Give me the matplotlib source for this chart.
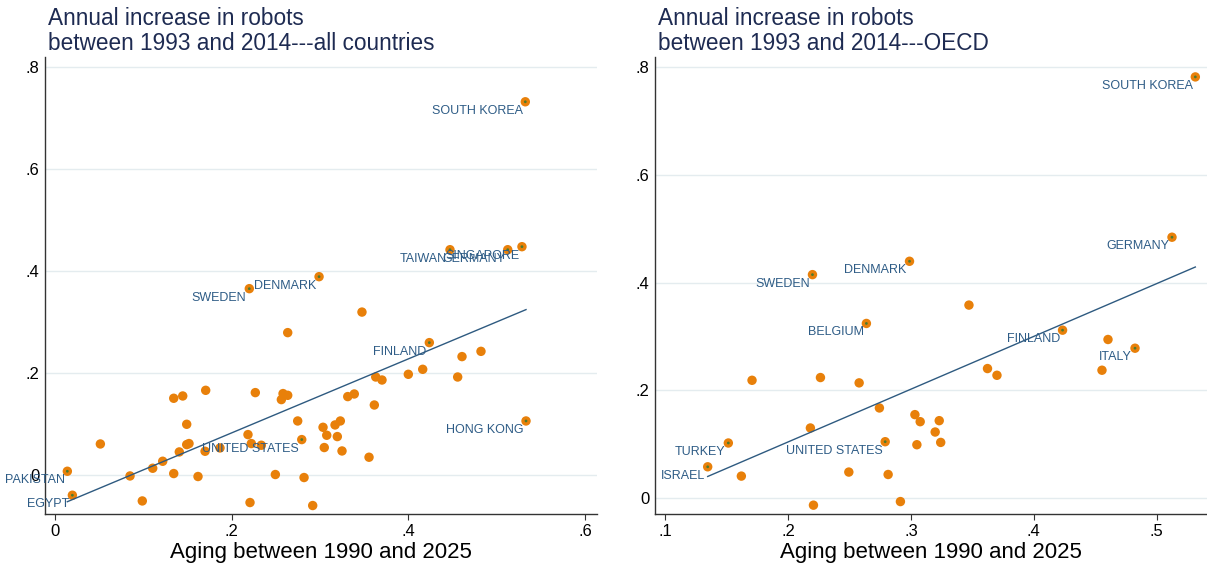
import numpy as np
import matplotlib
matplotlib.use("Agg")
import matplotlib.pyplot as plt

plt.rcParams['font.family'] = ['Liberation Sans', 'DejaVu Sans']

# ---------------- data: all countries ----------------
all_lab_names = ["PAKISTAN", "EGYPT", "SWEDEN", "DENMARK", "UNITED STATES",
                 "FINLAND", "TAIWAN", "GERMANY", "SINGAPORE", "SOUTH KOREA",
                 "HONG KONG"]
all_lab_x = [0.0137, 0.0194, 0.2198, 0.2988, 0.2792,
             0.4237, 0.4471, 0.5125, 0.5286, 0.5324, 0.5332]
all_lab_y = [0.0078, -0.0392, 0.3658, 0.3893, 0.0699,
             0.2600, 0.4422, 0.4422, 0.4481, 0.7322, 0.1064]

all_x = [0.0511, 0.0847, 0.0986, 0.1104, 0.1217, 0.1342, 0.1444, 0.1342,
         0.1489, 0.1489, 0.1515, 0.1405, 0.1617, 0.1704, 0.1697, 0.1866,
         0.2183, 0.2221, 0.2334, 0.2266, 0.2206, 0.2633, 0.2580, 0.2633,
         0.2561, 0.2746, 0.2493, 0.2818, 0.2916, 0.3033, 0.3075, 0.3047,
         0.3169, 0.3229, 0.3195, 0.3248, 0.3313, 0.3387, 0.3474, 0.3614,
         0.3554, 0.3630, 0.3701, 0.3999, 0.4162, 0.4607, 0.4822, 0.4558]
all_y = [0.0613, -0.0014, -0.0504, 0.0137, 0.0274, 0.1509, 0.1554, 0.0033,
         0.0999, 0.0601, 0.0621, 0.0457, -0.0025, 0.1665, 0.0470, 0.0535,
         0.0797, 0.0621, 0.0588, 0.1620, -0.0535, 0.2796, 0.1601, 0.1567,
         0.1483, 0.1064, 0.0014, -0.0045, -0.0594, 0.0940, 0.0784, 0.0543,
         0.0986, 0.1064, 0.0758, 0.0476, 0.1542, 0.1593, 0.3199, 0.1377,
         0.0353, 0.1926, 0.1867, 0.1979, 0.2077, 0.2326, 0.2429, 0.1926]

# ---------------- data: OECD ----------------
oecd_lab_names = ["ISRAEL", "TURKEY", "SWEDEN", "BELGIUM", "UNITED STATES",
                  "DENMARK", "FINLAND", "ITALY", "GERMANY", "SOUTH KOREA"]
oecd_lab_x = [0.1345, 0.1513, 0.2198, 0.2637, 0.2790,
              0.2988, 0.4234, 0.4824, 0.5125, 0.5315]
oecd_lab_y = [0.0577, 0.1019, 0.4147, 0.3240, 0.1043,
              0.4395, 0.3115, 0.2780, 0.4842, 0.7820]

oecd_x = [0.1619, 0.1706, 0.2181, 0.2206, 0.2263, 0.2494, 0.2578, 0.2743,
          0.2814, 0.2914, 0.3032, 0.3075, 0.3048, 0.3197, 0.3230, 0.3242,
          0.3472, 0.3623, 0.3700, 0.4604, 0.4555]
oecd_y = [0.0404, 0.2184, 0.1298, -0.0136, 0.2235, 0.0479, 0.2136, 0.1670,
          0.0434, -0.0069, 0.1546, 0.1415, 0.0987, 0.1223, 0.1434, 0.1030,
          0.3581, 0.2402, 0.2277, 0.2942, 0.2371]

titles = ["Annual increase in robots\nbetween 1993 and 2014---all countries",
          "Annual increase in robots\nbetween 1993 and 2014---OECD"]
xlabel = "Aging between 1990 and 2025"
left_xticks = [0, 0.2, 0.4, 0.6]
left_xticklabels = ["0", ".2", ".4", ".6"]
right_xticks = [0.1, 0.2, 0.3, 0.4, 0.5]
right_xticklabels = [".1", ".2", ".3", ".4", ".5"]
yticks = [0, 0.2, 0.4, 0.6, 0.8]
yticklabels = ["0", ".2", ".4", ".6", ".8"]

ORANGE = "#E8800A"
DOT = "#4E7A2E"
LABEL = "#2E5C86"
LINE = "#2E5A80"
TITLE = "#1E2B52"
GRID = "#E4ECEF"

W, H = 1207, 571
fig = plt.figure(figsize=(W / 100, H / 100), dpi=100)

def px_axes(x0, y0, x1, y1):
    return fig.add_axes([x0 / W, 1 - y1 / H, (x1 - x0) / W, (y1 - y0) / H])

axL = px_axes(45, 57, 597, 514)
axR = px_axes(655, 57, 1207, 514)

def draw(ax, ux, uy, lx, ly, names, xlim, ylim, xt, xtl, title, label_dy):
    ax.set_xlim(*xlim)
    ax.set_ylim(*ylim)
    allx = np.array(list(ux) + list(lx))
    ally = np.array(list(uy) + list(ly))
    ax.scatter(ux, uy, s=46, color=ORANGE, edgecolors='none', zorder=3)
    ax.scatter(lx, ly, s=46, color=ORANGE, edgecolors='none', zorder=3)
    ax.scatter(lx, ly, s=4, color=DOT, edgecolors='none', zorder=4)
    b, a = np.polyfit(allx, ally, 1)
    xs = np.array([allx.min(), allx.max()])
    ax.plot(xs, a + b * xs, color=LINE, lw=1.0, zorder=5)
    for n, x, y in zip(names, lx, ly):
        ax.annotate(n, (x, y), xytext=(-2, label_dy), textcoords='offset points',
                    ha='right', va='center', fontsize=9, color=LABEL,
                    annotation_clip=False, zorder=6)
    ax.set_yticks(yticks)
    ax.set_yticklabels(yticklabels)
    ax.set_xticks(xt)
    ax.set_xticklabels(xtl)
    ax.grid(axis='y', color=GRID, lw=1.0, zorder=0)
    ax.set_axisbelow(True)
    for s in ['top', 'right']:
        ax.spines[s].set_visible(False)
    for s in ['left', 'bottom']:
        ax.spines[s].set_color('#333333')
        ax.spines[s].set_linewidth(1.0)
    ax.tick_params(axis='y', length=0, pad=4, labelsize=12)
    ax.tick_params(axis='x', length=4.5, width=0.8, color='#333333', pad=3, labelsize=12)
    ax.set_xlabel(xlabel, fontsize=16, labelpad=2)
    ax.set_title(title, loc='left', fontsize=16.3, color=TITLE, pad=5, linespacing=1.12,
                 x=0.005)

draw(axL, all_x, all_y, all_lab_x, all_lab_y, all_lab_names,
     (-0.0116, 0.6136), (-0.076, 0.82), left_xticks, left_xticklabels, titles[0], -6.5)
draw(axR, oecd_x, oecd_y, oecd_lab_x, oecd_lab_y, oecd_lab_names,
     (0.0916, 0.541), (-0.030, 0.819), right_xticks, right_xticklabels, titles[1], -6.5)

fig.savefig("out.png", dpi=100)
